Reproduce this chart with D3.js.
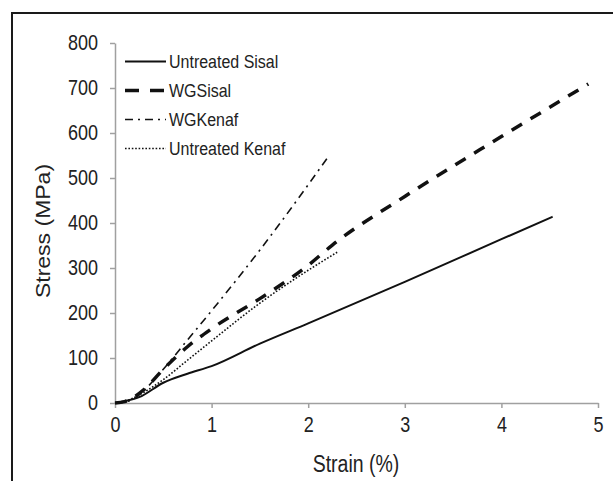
<!DOCTYPE html>
<html lang="en">
<head>
  <meta charset="UTF-8">
  <title>Stress strain</title>
  <style>
    body { margin: 0; background: #fff; }
    text { font-family: "Liberation Sans", Arial, sans-serif; fill: #222; }
  </style>
</head>
<body>
  <svg id="chart"></svg>
  <script src="https://cdn.jsdelivr.net/npm/d3@7"></script>
  <script>
    // ---- data ----
    var sisalStrain = [0, 0.1, 0.25, 0.5, 0.75, 1, 1.5, 2, 3, 4, 4.53];
    var sisalStress = [0, 4, 13, 45, 65, 82, 132, 177, 269, 364, 414];

    var wgSisalStrain = [0, 0.1, 0.3, 0.5, 0.75, 1, 1.5, 2, 2.25, 3, 4, 4.9];
    var wgSisalStress = [0, 3, 30, 75, 125, 165, 232, 306, 351, 459, 592, 709];

    var wgKenafStrain = [0, 0.1, 0.2, 0.3, 0.5, 0.75, 1, 1.5, 2, 2.2];
    var wgKenafStress = [0, 2, 10, 28, 75, 140, 205, 340, 485, 545];

    var kenafStrain = [0, 0.1, 0.25, 0.5, 0.75, 1, 1.5, 2, 2.3];
    var kenafStress = [0, 3, 18, 52, 95, 138, 222, 295, 335];

    var seriesNames = ['Untreated Sisal', 'WGSisal', 'WGKenaf', 'Untreated Kenaf'];
    var xTicks = [0, 1, 2, 3, 4, 5];
    var yTicks = [0, 100, 200, 300, 400, 500, 600, 700, 800];

    var W = 613, H = 481;
    var SY = 1.18; // the original picture is a bit stretched vertically
    var svg = d3.select('#chart').attr('width', W).attr('height', H);

    // frame (top and left only)
    svg.append('path')
      .attr('d', 'M12,' + H + ' L12,13 L' + W + ',13')
      .attr('fill', 'none')
      .attr('stroke', '#1a1a1a')
      .attr('stroke-width', 2);

    var x = d3.scaleLinear().domain([0, 5]).range([115, 598]);
    var y = d3.scaleLinear().domain([0, 800]).range([403, 43]);

    var xAxis = svg.append('g')
      .attr('transform', 'translate(0,' + y(0) + ')')
      .call(d3.axisBottom(x).tickValues(xTicks).tickFormat(d3.format('d'))
        .tickSize(5).tickSizeOuter(0).tickPadding(7));
    var yAxis = svg.append('g')
      .attr('transform', 'translate(' + x(0) + ',0)')
      .call(d3.axisLeft(y).tickValues(yTicks).tickFormat(d3.format('d'))
        .tickSize(5).tickSizeOuter(0).tickPadding(12));

    [xAxis, yAxis].forEach(function (g) {
      g.select('.domain').attr('stroke', '#a0a0a0').attr('stroke-width', 1.5);
      g.selectAll('.tick line').attr('stroke', '#a0a0a0').attr('stroke-width', 1.5);
      g.selectAll('.tick text')
        .attr('fill', '#222')
        .attr('transform', 'scale(1,' + SY + ')')
        .style('font-family', '"Liberation Sans", Arial, sans-serif')
        .style('font-size', '18px');
    });

    svg.append('text')
      .attr('transform', 'translate(356,472) scale(1,' + SY + ')')
      .attr('text-anchor', 'middle')
      .style('font-size', '19.5px')
      .text('Strain (%)');

    svg.append('text')
      .attr('transform', 'translate(50,231) scale(1,' + SY + ') rotate(-90)')
      .attr('text-anchor', 'middle')
      .style('font-size', '19.5px')
      .text('Stress (MPa)');

    // line styles
    var styles = [
      { width: 2, dash: null },
      { width: 3.5, dash: '12,10' },
      { width: 1.6, dash: '8,5,2,5' },
      { width: 1.6, dash: '1.6,1.8' }
    ];

    var series = [
      d3.zip(sisalStrain, sisalStress),
      d3.zip(wgSisalStrain, wgSisalStress),
      d3.zip(wgKenafStrain, wgKenafStress),
      d3.zip(kenafStrain, kenafStress)
    ];

    var line = d3.line()
      .x(function (d) { return x(d[0]); })
      .y(function (d) { return y(d[1]); })
      .curve(d3.curveMonotoneX);

    svg.selectAll('path.series')
      .data(series)
      .enter()
      .append('path')
      .attr('class', 'series')
      .attr('d', line)
      .attr('fill', 'none')
      .attr('stroke', '#111')
      .attr('stroke-width', function (d, i) { return styles[i].width; })
      .attr('stroke-dasharray', function (d, i) { return styles[i].dash; });

    // legend
    var legend = svg.selectAll('g.legend')
      .data(seriesNames)
      .enter()
      .append('g')
      .attr('class', 'legend')
      .attr('transform', function (d, i) { return 'translate(125,' + (61.5 + i * 29) + ')'; });

    legend.append('line')
      .attr('x1', 0).attr('x2', 41)
      .attr('stroke', '#111')
      .attr('stroke-width', function (d, i) { return styles[i].width; })
      .attr('stroke-dasharray', function (d, i) {
        return i === 1 ? '14,11' : (i === 2 ? '8,5,2,5' : styles[i].dash);
      });

    legend.append('text')
      .attr('transform', 'translate(44,6.5) scale(1,' + SY + ')')
      .style('font-size', '16px')
      .text(function (d) { return d; });
  </script>
</body>
</html>
